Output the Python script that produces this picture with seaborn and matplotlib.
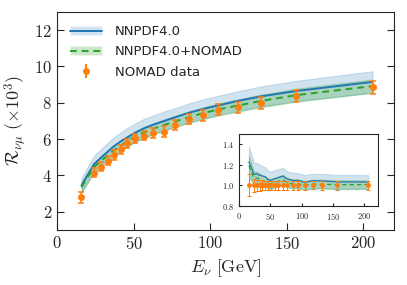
import numpy as np
import pandas as pd
import matplotlib
matplotlib.use("Agg")
import matplotlib.pyplot as plt
import seaborn as sns
from matplotlib.patches import Patch
from matplotlib.lines import Line2D

# NOMAD bins (GeV) and measured ratio (x10^3)
energy = [16, 24, 29, 33, 37, 42, 46, 51, 57, 63, 70, 77, 86, 95, 105, 118, 133, 156, 206]
nomad = [2.81, 4.16, 4.49, 4.82, 5.13, 5.44, 5.77, 6.05, 6.20, 6.32, 6.42, 6.78, 7.10, 7.31, 7.62, 7.75, 8.00, 8.36, 8.85]
nomad_err = [0.30, 0.25, 0.25, 0.24, 0.25, 0.25, 0.26, 0.26, 0.27, 0.27, 0.28, 0.28, 0.29, 0.29, 0.30, 0.30, 0.32, 0.34, 0.35]

# theory predictions
nnpdf = [3.45, 4.60, 5.00, 5.30, 5.60, 5.90, 6.10, 6.35, 6.60, 6.80, 7.00, 7.20, 7.45, 7.65, 7.85, 8.10, 8.35, 8.65, 9.15]
nnpdf_unc = [0.42, 0.47, 0.48, 0.49, 0.50, 0.50, 0.52, 0.51, 0.53, 0.51, 0.53, 0.50, 0.52, 0.53, 0.53, 0.54, 0.55, 0.56, 0.59]
nomad_fit = [3.35, 4.45, 4.82, 5.10, 5.38, 5.65, 5.90, 6.15, 6.38, 6.58, 6.78, 6.97, 7.20, 7.42, 7.63, 7.85, 8.10, 8.42, 8.92]
nomad_fit_unc = [0.27, 0.26, 0.26, 0.27, 0.27, 0.28, 0.28, 0.29, 0.30, 0.30, 0.31, 0.31, 0.32, 0.33, 0.33, 0.34, 0.35, 0.36, 0.37]

blue = "#1f77b4"
green = "#2ca02c"
orange = "#ff7f0e"

sns.set_style("ticks")
plt.rcParams["font.family"] = "serif"
plt.rcParams["font.serif"] = ["cmr10"]
plt.rcParams["mathtext.fontset"] = "cm"
plt.rcParams["axes.formatter.use_mathtext"] = True

df = pd.DataFrame({
    "E": energy, "data": nomad, "err": nomad_err,
    "nnpdf": nnpdf, "nnpdf_unc": nnpdf_unc,
    "fit": nomad_fit, "fit_unc": nomad_fit_unc,
})
E = df["E"].to_numpy()


def draw(ax, scale, lw, ms, cap):
    # scale: divide everything by data for the ratio inset
    d = df["data"].to_numpy() if scale else np.ones(len(df))
    ax.fill_between(E, (df["nnpdf"] - df["nnpdf_unc"]) / d, (df["nnpdf"] + df["nnpdf_unc"]) / d,
                    color=blue, alpha=0.2, lw=0.8)
    ax.fill_between(E, (df["fit"] - df["fit_unc"]) / d, (df["fit"] + df["fit_unc"]) / d,
                    color=green, alpha=0.25, lw=0.8)
    sns.lineplot(x=E, y=df["nnpdf"] / d, ax=ax, color=blue, lw=lw)
    sns.lineplot(x=E, y=df["fit"] / d, ax=ax, color=green, lw=lw, linestyle=(0, (3.5, 2.5)))
    ax.errorbar(E, df["data"] / d, yerr=df["err"] / d, fmt="o", color=orange,
                ms=ms, capsize=cap, elinewidth=lw * 0.8, capthick=lw * 0.8, zorder=5)
    ax.set_ylabel("")


fig = plt.figure(figsize=(4.07, 2.85), dpi=100)
ax = fig.add_axes([0.14, 0.193, 0.828, 0.765])
draw(ax, False, 1.4, 4, 2.5)
ax.set_xlim(0, 220)
ax.set_ylim(1, 13)
ax.set_xticks([0, 50, 100, 150, 200])
ax.set_yticks([2, 4, 6, 8, 10, 12])
ax.tick_params(direction="in", labelsize=12, right=True, length=5)
ax.set_xlabel(r"$E_\nu\ [\mathrm{GeV}]$", fontsize=13)
ax.set_ylabel(r"$\mathcal{R}_{\nu\mu}\ (\times 10^3)$", fontsize=13)

handles = [
    (Patch(facecolor=blue, alpha=0.2), Line2D([], [], color=blue, lw=1.4)),
    (Patch(facecolor=green, alpha=0.25), Line2D([], [], color=green, lw=1.4, ls=(0, (3.5, 2.5)))),
    ax.errorbar([], [], yerr=[], fmt="o", color=orange, ms=4, capsize=2.5),
]
ax.legend(handles, ["NNPDF4.0", "NNPDF4.0+NOMAD", "NOMAD data"], loc="upper left",
          frameon=False, prop={"family": "DejaVu Sans", "size": 9.5},
          handlelength=2.4, handletextpad=1.0, borderaxespad=0.6, labelspacing=0.55)

ins = fig.add_axes([0.587, 0.277, 0.342, 0.253])
draw(ins, True, 0.9, 2.5, 1.5)
ins.set_xlim(0, 222)
ins.set_ylim(0.8, 1.5)
ins.set_xticks([0, 50, 100, 150, 200])
ins.set_yticks([0.8, 1.0, 1.2, 1.4])
ins.tick_params(direction="in", labelsize=6, length=2.5)

fig.savefig("out.png", dpi=100)
